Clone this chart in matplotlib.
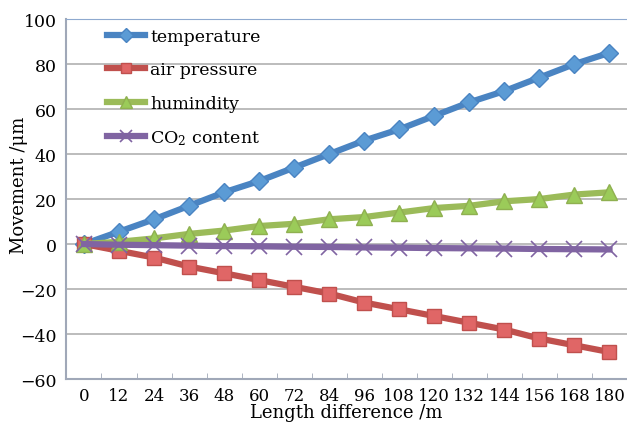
import matplotlib
matplotlib.use("Agg")
import matplotlib.pyplot as plt
import numpy as np

categories = ["0", "12", "24", "36", "48", "60", "72", "84", "96", "108", "120", "132", "144", "156", "168", "180"]
temperature = [0, 5.5, 11, 17, 23, 28, 34, 40, 46, 51, 57, 63, 68, 74, 80, 85]
air_pressure = [0, -3, -6, -10, -13, -16, -19, -22, -26, -29, -32, -35, -38, -42, -45, -48]
humidity = [0, 1, 2.5, 4.5, 6, 8, 9, 11, 12, 14, 16, 17, 19, 20, 22, 23]
co2 = [0, -0.3, -0.5, -0.7, -0.9, -1.0, -1.2, -1.3, -1.5, -1.6, -1.8, -1.9, -2.0, -2.2, -2.3, -2.4]
yticks = [-60, -40, -20, 0, 20, 40, 60, 80, 100]

plt.rcParams['font.family'] = ['DejaVu Serif']
plt.rcParams['mathtext.fontset'] = 'dejavuserif'

fig = plt.figure(figsize=(6.27, 4.27), dpi=100)
ax = fig.add_axes([0.106, 0.110, 0.894, 0.843])
x = np.arange(len(categories))

lw = 4.5
ax.plot(x, temperature, color='#4A84C2', lw=lw, marker='D', ms=9, mfc='#5B9BD5', mec='#4A84C2', label='temperature', zorder=2)
ax.plot(x, air_pressure, color='#C0504D', lw=lw, marker='s', ms=10, mfc='#E06666', mec='#C0504D', label='air pressure', zorder=3)
ax.plot(x, humidity, color='#9BBB59', lw=lw, marker='^', ms=11, mfc='#9BCB59', mec='#8FB050', label='humindity', zorder=4)
ax.plot(x, co2, color='#8064A2', lw=lw, marker='x', ms=11, mew=1.2, mec='#8064A2', label='CO$_2$ content', zorder=5)

ax.set_xlim(-0.5, 15.5)
ax.set_ylim(-60, 100)
ax.set_yticks(yticks)
ax.set_yticklabels(['\u221260', '\u221240', '\u221220', '0', '20', '40', '60', '80', '100'])
ax.set_xticks(x)
ax.set_xticklabels(categories)
ax.set_xticks(np.arange(-0.5, 16, 1), minor=True)
ax.tick_params(axis='x', which='major', length=0, labelsize=12, pad=6)
ax.tick_params(axis='x', which='minor', length=4, color='#A0A8B8', direction='in')
ax.tick_params(axis='y', length=0, labelsize=12.5, pad=7)
ax.grid(axis='y', color='#B0B0B0', lw=1.2)
ax.set_axisbelow(True)
ax.spines['right'].set_visible(False)
ax.spines['top'].set_color('#8EA9CF')
ax.spines['left'].set_color('#A0A8B8')
ax.spines['bottom'].set_color('#A0A8B8')
ax.spines['left'].set_linewidth(1.5)
ax.spines['bottom'].set_linewidth(1.5)

ax.set_xlabel('Length difference /m', fontsize=13, labelpad=-1)
ax.set_ylabel('Movement /\u03bcm', fontsize=13, labelpad=4)
ax.yaxis.set_label_coords(-0.068, 0.54)

leg = ax.legend(loc='upper left', bbox_to_anchor=(0.05, 1.01), frameon=False, fontsize=12.5,
                handlelength=2.2, labelspacing=0.95, handletextpad=0.3, borderaxespad=0.3,
                markerscale=0.75)

fig.savefig('out.png', dpi=100)
